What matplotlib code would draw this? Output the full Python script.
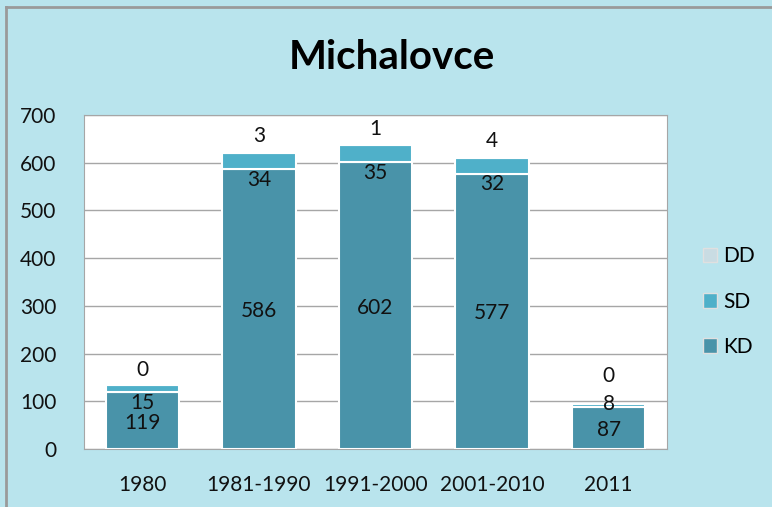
import matplotlib.pyplot as plt
import numpy as np
from matplotlib.lines import Line2D
from matplotlib.patches import Patch

# data
periods = ['1980', '1981-1990', '1991-2000', '2001-2010', '2011']
kd = [119, 586, 602, 577, 87]
sd = [15, 34, 35, 32, 8]
dd = [0, 3, 1, 4, 0]

kd_color = '#4993A9'
sd_color = '#4FB0C9'
dd_color = '#C9DCE3'
bg_color = '#B9E4ED'

plt.rcParams['font.family'] = ['Lato', 'DejaVu Sans']

fig = plt.figure(figsize=(7.72, 5.07), dpi=100, facecolor=bg_color)
ax = fig.add_axes([0.1088, 0.1144, 0.7552, 0.6586])
ax.set_facecolor('white')

x = np.arange(len(periods))
kd_arr = np.array(kd)
sd_arr = np.array(sd)
dd_arr = np.array(dd)
w = 0.63
fs = 15

ax.bar(x, kd_arr, w, color=kd_color, edgecolor='white', linewidth=1.5, zorder=3)
ax.bar(x, sd_arr, w, bottom=kd_arr, color=sd_color, edgecolor='white', linewidth=1.5, zorder=3)
ax.bar(x, dd_arr, w, bottom=kd_arr + sd_arr, color=dd_color, edgecolor='white', linewidth=1.5, zorder=3)

# labels
for i in range(len(periods)):
    ax.annotate(str(kd[i]), (x[i], kd_arr[i] / 2), xytext=(0, -1.5), textcoords='offset points',
                ha='center', va='center', fontsize=fs, color='#111111', zorder=5)
    top = kd_arr[i] + sd_arr[i] + dd_arr[i]
    if sd[i] < 10:
        # small segment: label sits on the bar top, total label pushed above it
        ax.text(x[i], kd_arr[i] + sd_arr[i], str(sd[i]), ha='center', va='center', fontsize=fs, color='#111111', zorder=5)
        off = 13
    else:
        ax.annotate(str(sd[i]), (x[i], kd_arr[i]), xytext=(0, -0.5), textcoords='offset points',
                    ha='center', va='top', fontsize=fs, color='#111111', zorder=5)
        off = 4
    ax.annotate(str(dd[i]), (x[i], top), xytext=(0, off), textcoords='offset points',
                ha='center', va='bottom', fontsize=fs, color='#111111', zorder=5)

ax.set_xlim(-0.5, len(periods) - 0.5)
ax.set_ylim(0, 700)
ax.set_yticks(range(0, 701, 100))
ax.set_xticks(x)
ax.set_xticklabels(periods)
ax.tick_params(axis='both', length=0, labelsize=fs, colors='#111111')
ax.tick_params(axis='x', pad=19)
ax.tick_params(axis='y', pad=20)
ax.yaxis.grid(True, color='#A6A6A6', linewidth=1)
ax.set_axisbelow(True)
for s in ax.spines.values():
    s.set_color('#A6A6A6')

fig.text(0.508, 0.886, 'Michalovce', ha='center', va='center', fontsize=29, fontweight='bold', color='black')

handles = [Patch(facecolor=dd_color, edgecolor='#E0E0E0'),
           Patch(facecolor=sd_color, edgecolor='#E0E0E0'),
           Patch(facecolor=kd_color, edgecolor='#E0E0E0')]
fig.legend(handles, ['DD', 'SD', 'KD'], loc='center left', bbox_to_anchor=(0.886, 0.405),
           frameon=False, fontsize=fs, handlelength=0.7, handleheight=0.7,
           handletextpad=0.3, labelspacing=1.22)

# frame lines of the chart area
fig.add_artist(Line2D([0.008, 0.008], [0, 0.986], color='#9A9A9A', linewidth=2))
fig.add_artist(Line2D([0.008, 1], [0.986, 0.986], color='#9A9A9A', linewidth=2))

fig.savefig('out.png', dpi=100, facecolor=bg_color)
